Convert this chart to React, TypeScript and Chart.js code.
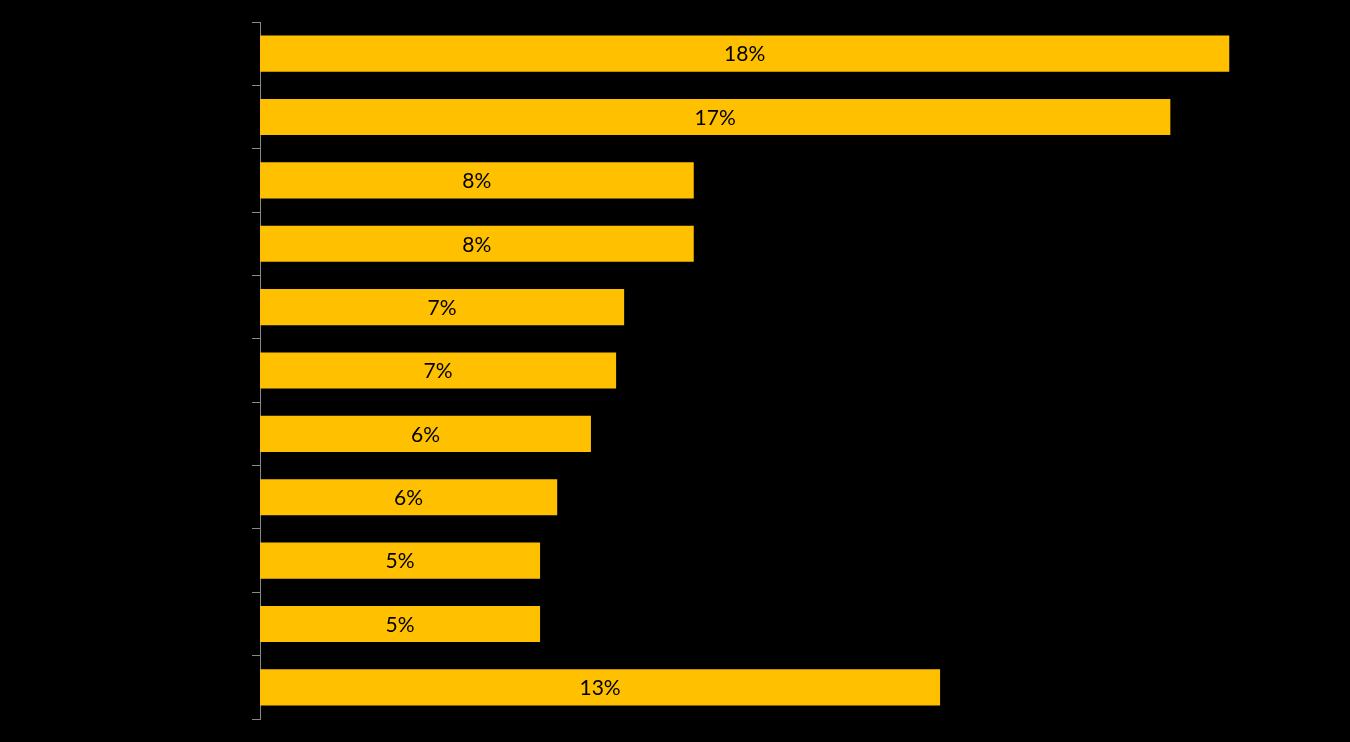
import React, { useEffect, useRef } from "react";
import { Chart, registerables } from "chart.js";

Chart.register(...registerables);

const categories: string[] = ["", "", "", "", "", "", "", "", "", "", ""];
const shareValues: number[] = [18.1, 17.0, 8.1, 8.1, 6.8, 6.65, 6.18, 5.55, 5.23, 5.23, 12.7];
const shareLabels: string[] = ["18%", "17%", "8%", "8%", "7%", "7%", "6%", "6%", "5%", "5%", "13%"];

const barLabelPlugin = {
  id: "barLabels",
  afterDatasetsDraw(chart: any) {
    const ctx = chart.ctx;
    const meta = chart.getDatasetMeta(0);
    ctx.save();
    ctx.fillStyle = "#000000";
    ctx.font = "21px Lato, 'Open Sans', sans-serif";
    ctx.textAlign = "center";
    ctx.textBaseline = "middle";
    meta.data.forEach((bar: any, i: number) => {
      const cx = (bar.x + bar.base) / 2;
      ctx.fillText(shareLabels[i], cx, bar.y + 1);
    });
    ctx.restore();
  },
};

export default function App() {
  const ref = useRef<HTMLCanvasElement | null>(null);
  useEffect(() => {
    if (!ref.current) return;
    const chart = new Chart(ref.current, {
      type: "bar",
      data: {
        labels: categories,
        datasets: [
          {
            data: shareValues,
            backgroundColor: "#FFC000",
            borderWidth: 0,
            barPercentage: 0.57,
            categoryPercentage: 1,
          },
        ],
      },
      options: {
        indexAxis: "y",
        animation: false,
        responsive: false,
        maintainAspectRatio: false,
        layout: { padding: { left: 252, top: 22, bottom: 23, right: 19 } },
        plugins: { legend: { display: false }, tooltip: { enabled: false } },
        scales: {
          x: { display: false, min: 0, max: 20 },
          y: {
            display: true,
            ticks: { display: false },
            grid: {
              drawOnChartArea: false,
              drawTicks: true,
              tickLength: 8,
              color: "#888888",
              offset: true,
            },
            border: { display: true, color: "#888888", width: 1 },
          },
        },
      },
      plugins: [barLabelPlugin],
    });
    return () => chart.destroy();
  }, []);
  return (
    <div style={{ position: "fixed", left: 0, top: 0, width: 1350, height: 742, background: "#000" }}>
      <canvas ref={ref} width={1350} height={742} style={{ display: "block" }} />
    </div>
  );
}
